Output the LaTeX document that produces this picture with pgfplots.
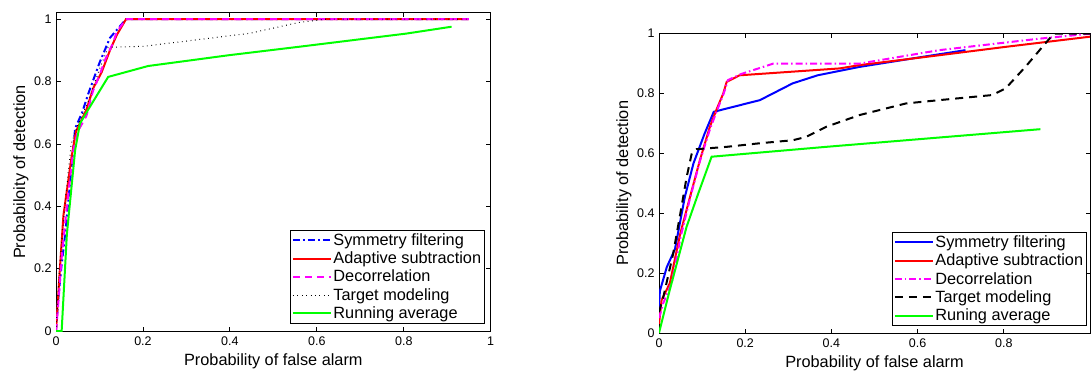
\documentclass[border=0pt]{standalone}
\usepackage{fontspec}
\setmainfont{Liberation Sans}
\usepackage{pgfplots}
\pgfplotsset{compat=1.18}
\definecolor{mblue}{RGB}{0,0,255}
\definecolor{mred}{RGB}{255,0,0}
\definecolor{mmag}{RGB}{255,0,255}
\definecolor{mgreen}{RGB}{0,255,0}
\pgfplotsset{
  mystyle/.style={
    scale only axis,
    anchor=south west,
    xmin=0, xmax=1, ymin=0,
    ytick={0,0.2,0.4,0.6,0.8,1},
    tick align=inside,
    major tick length=4.5pt,
    axis line style={line width=1pt},
    every tick/.style={black, line width=0.8pt},
    /pgf/number format/assume math mode=true,
    tick label style={font=\fontsize{12.5}{14}\selectfont},
    xticklabel style={yshift=-2pt},
    yticklabel style={xshift=-1pt},
    label style={font=\fontsize{16.3}{18}\selectfont},
    legend cell align=left,
    legend style={font=\fontsize{16.3}{18}\selectfont, line width=0.8pt,
      anchor=south east, inner xsep=2pt, inner ysep=2pt, row sep=2pt,
      nodes={inner sep=1.5pt}},
    legend image code/.code={\draw[##1] (0pt,0pt) -- (38pt,0pt);},
  },
}
\begin{document}
\begin{tikzpicture}[x=1pt,y=1pt]
\path[use as bounding box] (0,0) rectangle (1091,370);
\begin{axis}[mystyle,
  at={(56pt,39pt)}, width=434.7pt, height=318pt, ymax=1.02,
  xtick={0,0.2,0.4,0.6,0.8,1},
  xlabel={Probability of false alarm},
  ylabel={Probabiloity of detection},
  xlabel style={at={(axis description cs:0.5,-0.107)}, anchor=base},
  ylabel style={at={(axis description cs:-0.0713,0.5)}, anchor=base, rotate=0},
  legend style={at={(axis description cs:0.987,0.022)}},
]
\addplot[color=mblue, draw=mblue, line width=2pt, dash pattern=on 7pt off 3pt on 2pt off 3pt] coordinates {
(0,0)(0.005,0.1)(0.012,0.2)(0.021,0.31)(0.032,0.47)(0.044,0.65)(0.06,0.7)(0.074,0.76)(0.1,0.86)(0.124,0.94)(0.161,1.0)(0.95,1.0)};
\addlegendentry{Symmetry filtering}
\addplot[color=mred, draw=mred, line width=2pt] coordinates {
(0,0)(0.009,0.2)(0.017,0.37)(0.036,0.56)(0.046,0.64)(0.07,0.71)(0.086,0.78)(0.105,0.83)(0.124,0.90)(0.14,0.95)(0.161,1.0)(0.95,1.0)};
\addlegendentry{Adaptive subtraction}
\addplot[color=mmag, draw=mmag, line width=2pt, dash pattern=on 7pt off 5pt] coordinates {
(0,0)(0.006,0.1)(0.012,0.22)(0.025,0.4)(0.04,0.58)(0.05,0.64)(0.07,0.69)(0.085,0.77)(0.1,0.82)(0.113,0.87)(0.13,0.92)(0.14,0.96)(0.161,1.0)(0.95,1.0)};
\addlegendentry{Decorrelation}
\addplot[color=black, draw=black, line width=1pt, dash pattern=on 0.8pt off 3.6pt] coordinates {
(0,0)(0.008,0.2)(0.02,0.4)(0.035,0.6)(0.05,0.66)(0.075,0.74)(0.1,0.84)(0.12,0.91)(0.2,0.913)(0.3,0.93)(0.446,0.955)(0.56,0.99)(0.62,1.0)(0.95,1.0)};
\addlegendentry{Target modeling}
\addplot[color=mgreen, draw=mgreen, line width=2pt] coordinates {
(0,0)(0.013,0)(0.025,0.31)(0.044,0.58)(0.055,0.665)(0.074,0.71)(0.12,0.815)(0.212,0.85)(0.4,0.885)(0.561,0.912)(0.806,0.954)(0.91,0.976)};
\addlegendentry{Running average}
\end{axis}
\begin{axis}[mystyle,
  at={(659pt,37pt)}, width=431pt, height=299.3pt, ymax=1,
  xtick={0,0.2,0.4,0.6,0.8},
  xlabel={Probability of false alarm},
  ylabel={Probability of detection},
  xlabel style={at={(axis description cs:0.5,-0.1136)}, anchor=base},
  ylabel style={at={(axis description cs:-0.0718,0.5)}, anchor=base, rotate=0},
  legend style={at={(axis description cs:0.993,0.023)}},
]
\addplot[color=mblue, draw=mblue, line width=2pt] coordinates {
(0,0.08)(0.002,0.14)(0.018,0.22)(0.037,0.28)(0.06,0.455)(0.08,0.567)(0.106,0.667)(0.127,0.739)(0.157,0.75)(0.234,0.778)(0.31,0.834)(0.368,0.861)(0.465,0.889)(0.6,0.92)(0.711,0.945)};
\addlegendentry{Symmetry filtering}
\addplot[color=mred, draw=mred, line width=2pt] coordinates {
(0,0.03)(0.006,0.11)(0.025,0.166)(0.049,0.33)(0.072,0.455)(0.095,0.578)(0.118,0.689)(0.133,0.745)(0.149,0.80)(0.157,0.839)(0.187,0.861)(0.419,0.884)(0.465,0.895)(0.65,0.928)(0.804,0.956)(1.0,0.99)};
\addlegendentry{Adaptive subtraction}
\addplot[color=mmag, draw=mmag, line width=2pt, dash pattern=on 7pt off 3pt on 1.5pt off 3pt] coordinates {
(0,0.05)(0.01,0.1)(0.03,0.17)(0.05,0.32)(0.072,0.45)(0.095,0.575)(0.118,0.68)(0.135,0.745)(0.15,0.8)(0.16,0.845)(0.19,0.865)(0.265,0.9)(0.465,0.9)(0.65,0.945)(0.88,0.983)(1.0,1.0)};
\addlegendentry{Decorrelation}
\addplot[color=black, draw=black, line width=2pt, dash pattern=on 8pt off 6pt] coordinates {
(0,0.07)(0.01,0.12)(0.033,0.266)(0.052,0.42)(0.064,0.52)(0.076,0.60)(0.087,0.614)(0.157,0.622)(0.234,0.634)(0.31,0.644)(0.341,0.655)(0.388,0.689)(0.465,0.728)(0.573,0.767)(0.65,0.778)(0.773,0.795)(0.804,0.817)(0.85,0.889)(0.896,0.967)(0.916,1.0)(1.0,1.0)};
\addlegendentry{Target modeling}
\addplot[color=mgreen, draw=mgreen, line width=2pt] coordinates {
(0,0)(0.025,0.144)(0.064,0.355)(0.091,0.466)(0.122,0.589)(0.388,0.622)(0.885,0.681)};
\addlegendentry{Runing average}
\end{axis}
\end{tikzpicture}
\end{document}
